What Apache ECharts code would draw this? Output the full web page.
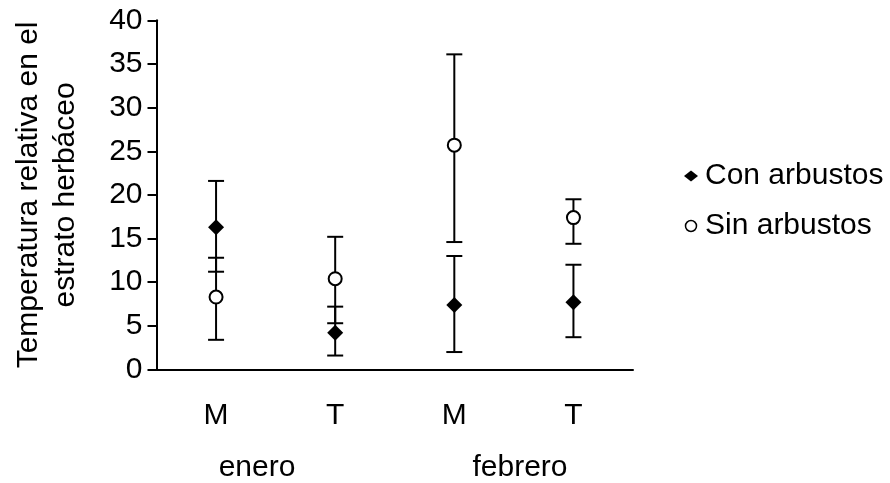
<!DOCTYPE html>
<html>
<head>
<meta charset="utf-8">
<title>Temperatura relativa</title>
<script src="https://cdn.jsdelivr.net/npm/echarts@6/dist/echarts.min.js"></script>
<style>
  html, body { margin: 0; padding: 0; background: #fff; }
  #chart { width: 890px; height: 483px; }
</style>
</head>
<body>
<div id="chart"></div>
<script>
// categorias del eje x
var categories = ['M', 'T', 'M', 'T'];
var months = ['enero', 'febrero'];

// Con arbustos: media y extremos de la barra de error
var conMean = [16.3, 4.2, 7.4, 7.7];
var conLow = [11.2, 1.6, 2.0, 3.7];
var conHigh = [21.6, 7.2, 13.0, 12.0];

// Sin arbustos
var sinMean = [8.3, 10.4, 25.7, 17.4];
var sinLow = [3.4, 5.3, 14.6, 14.4];
var sinHigh = [12.8, 15.2, 36.1, 19.5];

var yTicks = { min: 0, max: 40, interval: 5 };

var fontFam = '"Liberation Sans", Arial, sans-serif';
var fs = 30;
var chart = echarts.init(document.getElementById('chart'));

function errorData(low, high) {
    return low.map(function (v, i) { return [i, v, high[i]]; });
}

function renderErrorBar(params, api) {
    var x = api.value(0);
    var lo = api.coord([x, api.value(1)]);
    var hi = api.coord([x, api.value(2)]);
    var half = 8;
    var st = { stroke: '#000', lineWidth: 2 };
    return {
        type: 'group',
        children: [
            { type: 'line', shape: { x1: lo[0], y1: lo[1], x2: hi[0], y2: hi[1] }, style: st },
            { type: 'line', shape: { x1: lo[0] - half, y1: lo[1], x2: lo[0] + half, y2: lo[1] }, style: st },
            { type: 'line', shape: { x1: hi[0] - half, y1: hi[1], x2: hi[0] + half, y2: hi[1] }, style: st }
        ]
    };
}

var option = {
    animation: false,
    backgroundColor: '#fff',
    textStyle: { fontFamily: fontFam, color: '#000' },
    grid: { left: 156.5, right: 257, top: 20.3, bottom: 113.5, containLabel: false },
    legend: {
        orient: 'vertical',
        left: 679,
        top: 156,
        itemWidth: 14,
        itemHeight: 11,
        itemGap: 20,
        textStyle: { fontSize: fs, fontFamily: fontFam, color: '#000', padding: [0, 0, 0, 2] },
        data: [
            { name: 'Con arbustos', icon: 'diamond' },
            { name: 'Sin arbustos', icon: 'circle', itemStyle: { borderWidth: 1.5 } }
        ]
    },
    xAxis: {
        type: 'category',
        data: categories,
        axisLine: { lineStyle: { color: '#000', width: 2 } },
        axisTick: { length: 11, lineStyle: { color: '#000', width: 2 } },
        axisLabel: { fontSize: fs, color: '#000', margin: 31, fontFamily: fontFam },
        splitLine: { show: false }
    },
    yAxis: {
        type: 'value',
        min: yTicks.min,
        max: yTicks.max,
        interval: yTicks.interval,
        name: 'Temperatura relativa en el\nestrato herbáceo',
        nameLocation: 'middle',
        nameGap: 72,
        nameTextStyle: { fontSize: fs, color: '#000', lineHeight: 37, fontFamily: fontFam },
        axisLine: { show: true, lineStyle: { color: '#000', width: 2 } },
        axisTick: { show: true, length: 9, lineStyle: { color: '#000', width: 2 } },
        axisLabel: { fontSize: fs, color: '#000', margin: 14, fontFamily: fontFam },
        splitLine: { show: false }
    },
    graphic: [
        { type: 'text', x: 257, y: 468, style: { text: months[0], font: fs + 'px ' + fontFam, fill: '#000', textAlign: 'center', textVerticalAlign: 'middle' } },
        { type: 'text', x: 520, y: 468, style: { text: months[1], font: fs + 'px ' + fontFam, fill: '#000', textAlign: 'center', textVerticalAlign: 'middle' } }
    ],
    series: [
        {
            type: 'custom',
            name: 'errCon',
            renderItem: renderErrorBar,
            data: errorData(conLow, conHigh),
            encode: { x: 0, y: [1, 2] },
            z: 1,
            silent: true
        },
        {
            type: 'custom',
            name: 'errSin',
            renderItem: renderErrorBar,
            data: errorData(sinLow, sinHigh),
            encode: { x: 0, y: [1, 2] },
            z: 1,
            silent: true
        },
        {
            type: 'scatter',
            name: 'Con arbustos',
            symbol: 'diamond',
            symbolSize: 16,
            data: conMean,
            itemStyle: { color: '#000', opacity: 1 },
            z: 3
        },
        {
            type: 'scatter',
            name: 'Sin arbustos',
            symbol: 'circle',
            symbolSize: 13,
            data: sinMean,
            itemStyle: { color: '#fff', borderColor: '#000', borderWidth: 2, opacity: 1 },
            z: 4
        }
    ]
};

chart.setOption(option);
</script>
</body>
</html>
